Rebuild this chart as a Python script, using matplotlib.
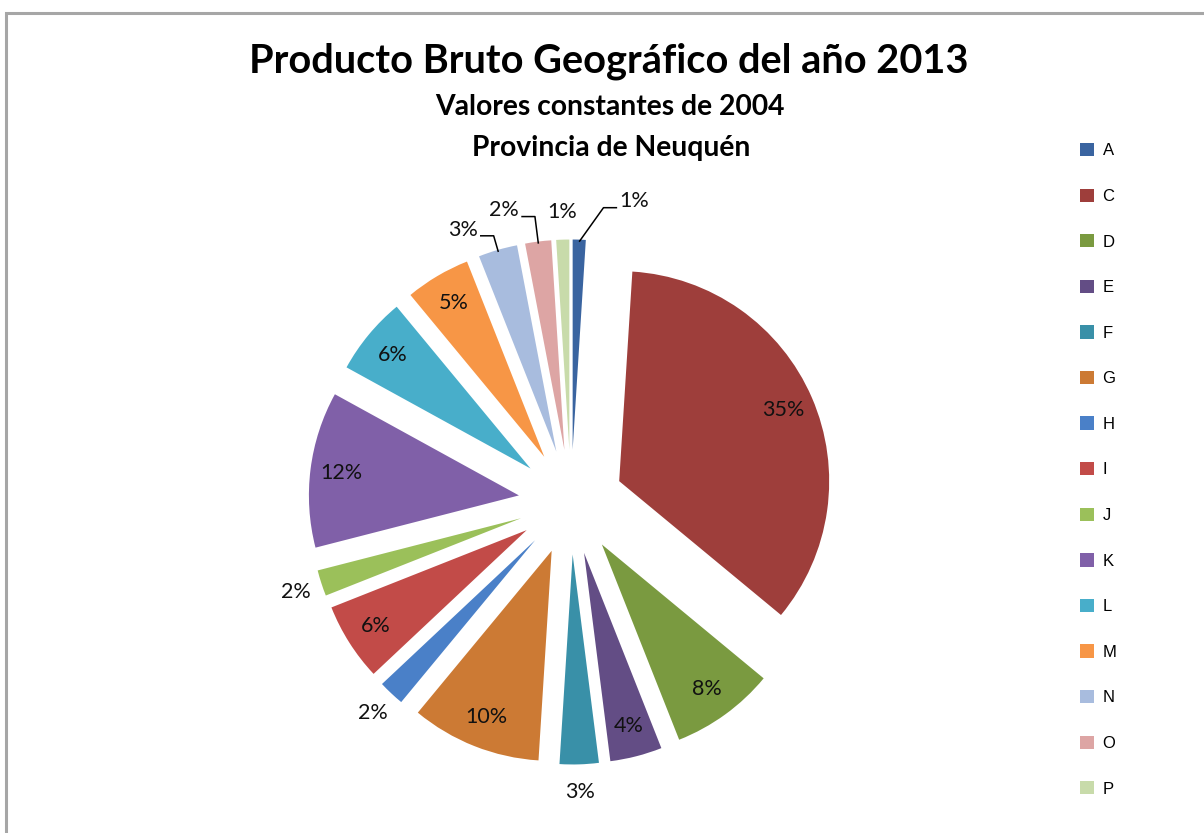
import numpy as np
import matplotlib
matplotlib.use("Agg")
import matplotlib.pyplot as plt
from matplotlib.patches import Rectangle

# data
sectors = ["A", "C", "D", "E", "F", "G", "H", "I", "J", "K", "L", "M", "N", "O", "P"]
shares = [1, 35, 8, 4, 3, 10, 2, 6, 2, 12, 6, 5, 3, 2, 1]
colors = ["#3A64A0", "#9E3E3B", "#7A9A40", "#634D85", "#3990A8", "#CC7A34",
          "#4A80C8", "#C24B48", "#9BC05A", "#8060A8", "#48AECA", "#F79646",
          "#A8BCDE", "#DDA5A4", "#C8DBAA"]

# label styling
outside = {"F", "H", "J", "N", "O", "P", "A"}
leader = {"N": -1, "O": -1, "A": 1}      # direction of the horizontal run
turn = {"A": (-4.5, 1.41), "N": (0, 1.32), "O": (0, 1.37)}

W, H = 1204, 833
fig = plt.figure(figsize=(W / 100, H / 100), dpi=100)
fig.patch.set_facecolor("white")
fig.patches.append(Rectangle((6 / W, -0.1), 1.2, 1 - 13 / H + 0.1, transform=fig.transFigure,
                             fill=False, edgecolor="#A6A6A6", linewidth=2.2))

R = 210.0
ax = fig.add_axes([271 / W, 31 / H, 600 / W, 600 / H])
wedges, _ = ax.pie(shares, colors=colors, startangle=90, counterclock=False,
                   explode=[0.25] * len(shares), radius=1.0,
                   wedgeprops=dict(linewidth=0))
lim = 300 / R
ax.set_xlim(-lim, lim)
ax.set_ylim(-lim, lim)
ax.axis("off")

lab_font = dict(family="Lato", fontsize=15.5, color="#111111")
for name, v, w in zip(sectors, shares, wedges):
    mid = np.deg2rad((w.theta1 + w.theta2) / 2)
    txt = f"{v}%"
    if name not in outside:
        r = 1.1
        ax.text(r * np.cos(mid), r * np.sin(mid), txt, ha="center", va="center", **lab_font)
    elif name in leader:
        da, er = turn[name]
        sx, sy = 1.24 * np.cos(mid), 1.24 * np.sin(mid)
        ea = mid + np.deg2rad(da)
        ex, ey = er * np.cos(ea), er * np.sin(ea)
        d = leader[name]
        fx = ex + d * 0.065
        ax.plot([sx, ex, fx], [sy, ey, ey], color="black", lw=1.1, solid_capstyle="butt")
        ax.text(fx + d * 0.012, ey + 0.03, txt, ha="left" if d > 0 else "right",
                va="center", **lab_font)
    else:
        r = 1.38
        ax.text(r * np.cos(mid), r * np.sin(mid), txt, ha="center", va="center", **lab_font)

fig.text(609 / W, 1 - 61 / H, "Producto Bruto Geográfico del año 2013",
         ha="center", va="center", family="Lato", fontweight="bold", fontsize=28.6)
fig.text(610 / W, 1 - 107 / H, "Valores constantes de 2004",
         ha="center", va="center", family="Lato", fontweight="bold", fontsize=20.3)
fig.text(611 / W, 1 - 148 / H, "Provincia de Neuquén",
         ha="center", va="center", family="Lato", fontweight="bold", fontsize=20.3)

fig.legend(wedges, sectors, loc="upper left", bbox_to_anchor=(1080 / W, 1 - 143 / H),
           frameon=False, handlelength=0.85, handleheight=0.85, handletextpad=0.5,
           labelspacing=1.81, borderaxespad=0, borderpad=0,
           prop=dict(family="Liberation Sans", size=12))

fig.savefig("out.png", dpi=100, facecolor="white")
